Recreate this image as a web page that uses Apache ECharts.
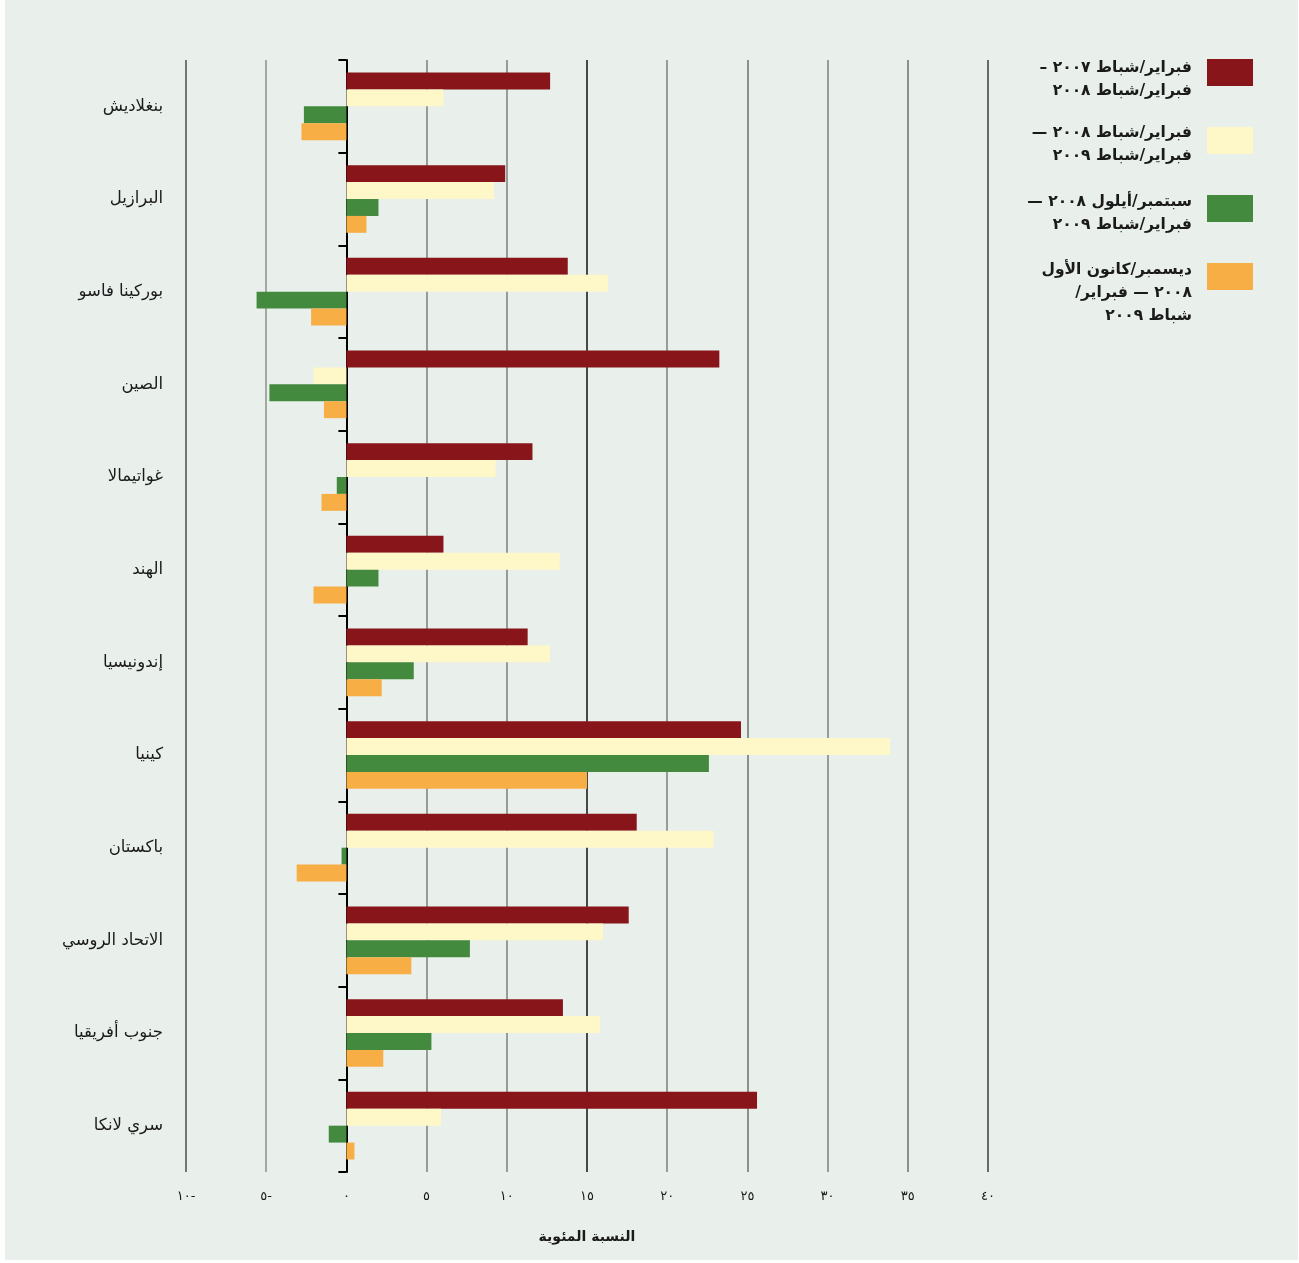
<!DOCTYPE html>
<html>
<head>
<meta charset="utf-8">
<script src="https://cdn.jsdelivr.net/npm/echarts@6/dist/echarts.min.js"></script>
<style>
  html, body { margin: 0; padding: 0; background: #ffffff; }
  #panel { position: absolute; left: 5px; top: 0; width: 1293px; height: 1260px; background: #e9efeb; }
  #chart { position: absolute; left: 0; top: 0; width: 1299px; height: 1263px; }
</style>
</head>
<body>
<div id="panel"></div>
<div id="chart"></div>
<script>
const categories = ['بنغلاديش', 'البرازيل', 'بوركينا فاسو', 'الصين', 'غواتيمالا', 'الهند', 'إندونيسيا', 'كينيا', 'باكستان', 'الاتحاد الروسي', 'جنوب أفريقيا', 'سري لانكا'];
const seriesNames = [
  'فبراير/شباط ٢٠٠٧ –\nفبراير/شباط ٢٠٠٨',
  'فبراير/شباط ٢٠٠٨ —\nفبراير/شباط ٢٠٠٩',
  'سبتمبر/أيلول ٢٠٠٨ —\nفبراير/شباط ٢٠٠٩',
  'ديسمبر/كانون الأول\n٢٠٠٨ — فبراير/\nشباط ٢٠٠٩'
];
const feb07_feb08 = [12.7, 9.9, 13.8, 23.25, 11.6, 6.05, 11.3, 24.6, 18.1, 17.6, 13.5, 25.6];
const feb08_feb09 = [6.05, 9.2, 16.3, -2.05, 9.3, 13.3, 12.7, 33.9, 22.9, 16.0, 15.8, 5.9];
const sep08_feb09 = [-2.65, 2.0, -5.6, -4.8, -0.6, 2.0, 4.2, 22.6, -0.3, 7.7, 5.3, -1.1];
const dec08_feb09 = [-2.8, 1.25, -2.2, -1.4, -1.55, -2.05, 2.2, 15.0, -3.1, 4.05, 2.3, 0.5];
const tickLabels = ['١٠-', '٥-', '٠', '٥', '١٠', '١٥', '٢٠', '٢٥', '٣٠', '٣٥', '٤٠'];
const axisTitle = 'النسبة المئوية';

const colors = ['#87151a', '#fef8c8', '#438a3f', '#f7ae45'];
const values = [feb07_feb08, feb08_feb09, sep08_feb09, dec08_feb09];
const FONT = 'DejaVu Sans';
const RLE = '\u202B', PDF = '\u202C';

const legendTops = [43, 113.5, 180.5, 225.5];
const legendShift = [13, 8, 10, 33];

const chart = echarts.init(document.getElementById('chart'), null, { renderer: 'canvas' });
chart.setOption({
  backgroundColor: 'transparent',
  animation: false,
  color: colors,
  grid: { left: 186, right: 311, top: 60, bottom: 91, outerBoundsMode: 'none', containLabel: false },
  legend: seriesNames.map((n, i) => ({
    data: [n],
    orient: 'vertical',
    right: 46,
    top: legendTops[i],
    align: 'right',
    padding: 0,
    itemWidth: 46,
    itemHeight: 27,
    itemGap: 0,
    icon: 'rect',
    selectedMode: false,
    formatter: name => '{s| }\n' + name.split('\n').map(l => RLE + l + PDF + '{g| }').join('\n'),
    textStyle: {
      fontFamily: FONT, fontSize: 15.5, fontWeight: 'bold', color: '#1a1a1a',
      lineHeight: 23, align: 'right',
      rich: {
        s: { fontSize: 1, lineHeight: legendShift[i], height: legendShift[i] },
        g: { fontSize: 1, width: 10, lineHeight: 23 }
      }
    }
  })),
  xAxis: {
    type: 'value',
    min: -10, max: 40, interval: 5,
    axisLine: { show: false },
    axisTick: { show: false },
    axisLabel: {
      margin: 18,
      fontFamily: FONT, fontSize: 13, color: '#1a1a1a',
      formatter: v => tickLabels[Math.round((v + 10) / 5)]
    },
    splitLine: {
      show: true,
      lineStyle: {
        width: 1.5,
        color: ['#4a4f4c', '#8a908c', '#000000', '#7a807c', '#7a807c', '#111111', '#7a807c', '#6a706c', '#7a807c', '#6a706c', '#3a3f3c']
      }
    },
    name: axisTitle,
    nameLocation: 'middle',
    nameGap: 58,
    nameTextStyle: { fontFamily: FONT, fontSize: 14, fontWeight: 'bold', color: '#1a1a1a' }
  },
  yAxis: {
    type: 'category',
    data: categories,
    inverse: true,
    axisLine: { show: true, onZero: true, lineStyle: { color: '#000', width: 2 } },
    axisTick: { show: true, length: 8, lineStyle: { color: '#000', width: 2 } },
    axisLabel: {
      margin: 23,
      fontFamily: FONT, fontSize: 16.5, color: '#1a1a1a', align: 'right'
    },
    splitLine: { show: false }
  },
  series: values.map((d, i) => ({
    type: 'bar',
    name: seriesNames[i],
    data: d,
    barGap: '0%',
    barCategoryGap: '27%',
    itemStyle: { color: colors[i] },
    z: 1
  }))
});
</script>
</body>
</html>
